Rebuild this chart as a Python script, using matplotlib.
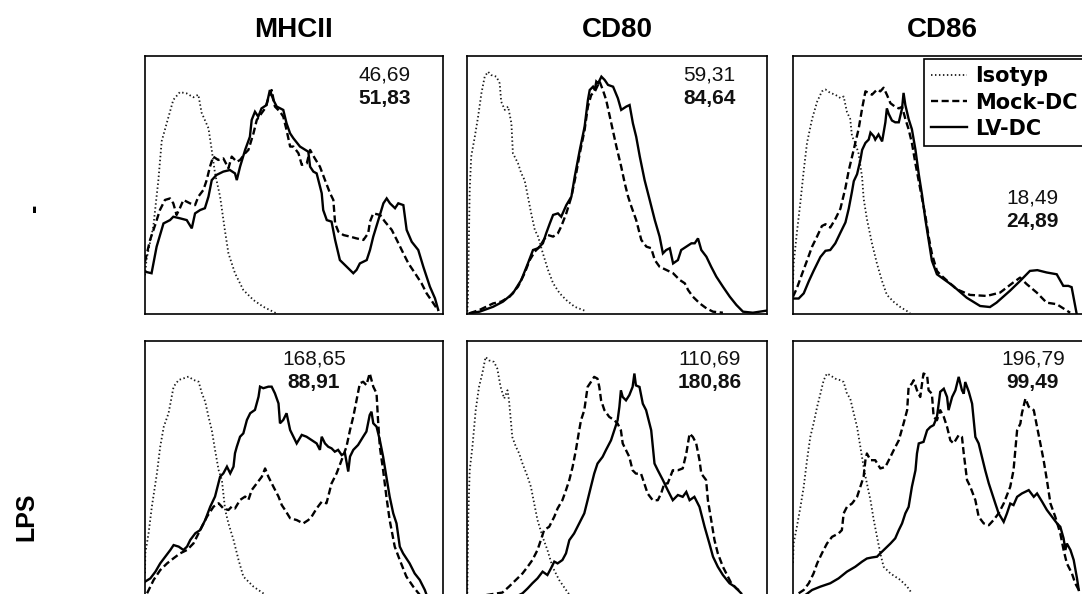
import numpy as np
import matplotlib
matplotlib.use("Agg")
import matplotlib.pyplot as plt
from matplotlib.lines import Line2D

plt.rcParams["font.family"] = ["Liberation Sans", "DejaVu Sans"]

MARKERS = ["MHCII", "CD80", "CD86"]
CONDITIONS = ["-", "LPS"]
SERIES = ["Isotyp", "Mock-DC", "LV-DC"]

# mean fluorescence intensities (Mock-DC on top, LV-DC in bold below)
mfi_mock = [[46.69, 59.31, 18.49], [168.65, 110.69, 196.79]]
mfi_lv = [[51.83, 84.64, 24.89], [88.91, 180.86, 99.49]]

# histograms as (channel, % of max) pairs, channel on a 0-100 log scale
mhcii_ctrl_iso = [(0, 15), (0.5, 21), (2.8, 34), (4.5, 52), (5.6, 67), (7.3, 74), (9.5, 83), (11.7, 86),
                  (14, 85.5), (16.2, 84), (17.9, 85), (19, 78), (21.3, 72), (22.4, 63.5), (23.5, 54.5),
                  (25.2, 45.5), (26.8, 32.5), (28, 23.5), (30.2, 15.8), (33, 9.3), (36.4, 5.4),
                  (39.7, 2.8), (44, 0.3)]
mhcii_ctrl_mock = [(0, 20.3), (1.7, 28.7), (3.4, 34.5), (5, 40.3), (6.7, 44.2), (8.4, 44.8), (9.5, 42.9),
                   (10.6, 38.4), (11.7, 41), (12.9, 44.2), (15.1, 42.9), (16.8, 42.2), (17.9, 45.5),
                   (19.6, 48.1), (20.7, 51.9), (21.8, 57.1), (22.9, 61), (24.6, 59.7), (26.3, 60.3),
                   (28, 56.5), (29.1, 61), (30.8, 59), (31.9, 59.7), (33.6, 62.3), (34.7, 63.6), (36.4, 70),
                   (37.5, 75.2), (39.1, 77.8), (40.3, 79.7), (41.4, 83.6), (42.5, 86.8), (43.6, 80.4),
                   (45.3, 78.4), (46.4, 76.5), (47.5, 71.3), (48.7, 64.9), (49.8, 64.9), (51.5, 62.3),
                   (52.6, 57.8), (54.3, 58.4), (55.4, 63.6), (57, 60.3), (58.7, 57.1), (60.4, 51.9),
                   (62.1, 46.8), (63.2, 44.2), (63.8, 35.1), (64.9, 31.9), (66.6, 30.6), (68.8, 30),
                   (71, 29.3), (73.3, 28.7), (74.9, 31.3), (75.5, 35.8), (76.6, 39), (78.9, 38.4),
                   (80.5, 35.8), (82.8, 32.6), (84.5, 28.7), (86.7, 23.5), (88.4, 19.6), (90.6, 15.8),
                   (92.8, 11.9), (94.5, 8), (96.8, 4.1), (98.4, 1.3)]
mhcii_ctrl_lv = [(0, 16.4), (2.2, 15.8), (3.9, 26.1), (6.2, 35.1), (8.4, 36.4), (9.5, 37.7), (11.7, 37.1),
                 (14, 36.4), (15.7, 33.2), (16.8, 39), (18.5, 40.3), (20.1, 41), (21.3, 45.5), (22.4, 51.9),
                 (24, 53.9), (26.3, 55.2), (28.5, 55.8), (30.2, 54.5), (30.8, 51.9), (31.9, 57.1),
                 (33.6, 63.6), (35.2, 68.7), (35.8, 75.2), (36.9, 78.4), (38, 76.5), (39.1, 79.7),
                 (40.8, 81), (41.9, 86.8), (43.1, 82.9), (44.2, 80.4), (46.4, 79.1), (47.5, 73.9),
                 (48.7, 70), (49.8, 68.1), (52, 64.9), (54.8, 62.9), (55.4, 57.1), (56.5, 55.2),
                 (57.6, 54.5), (59.3, 46.8), (59.8, 40.3), (61, 36.4), (62.6, 35.8), (63.8, 28.7),
                 (65.4, 20.9), (67.7, 18.3), (69.9, 15.8), (71, 17.1), (72.1, 19.6), (74.4, 20.9),
                 (75.5, 24.8), (76.6, 30), (78.3, 36.4), (80, 42.9), (81.1, 44.8), (82.2, 42.9),
                 (83.9, 41), (85, 42.9), (86.7, 42.2), (87.8, 32.6), (89.5, 28), (91.7, 24.8),
                 (93.4, 18.3), (95.6, 10.6), (97.3, 6.1), (98.4, 1.6)]

cd80_ctrl_iso = [(0.1, 1), (0.3, 5.4), (0.9, 48.1), (1.4, 61), (2.6, 68.7), (3.7, 76.5), (4.8, 85.5),
                 (5.9, 92), (7, 93.9), (8.1, 92.6), (9.8, 92), (10.9, 89.4), (11.4, 82.3), (12.6, 79.1),
                 (13.7, 80.4), (14.8, 73.9), (15.3, 62.3), (17, 58.4), (18.1, 54.5), (19.2, 51.9),
                 (20.3, 45.5), (21.4, 39), (22.6, 32.6), (23.7, 30), (25.3, 23.5), (27, 17.1),
                 (28.7, 11.9), (30.9, 8), (33.1, 5.4), (35.9, 2.8), (39.2, 1.3)]
cd80_ctrl_mock = [(0.9, 0.3), (4.2, 1.6), (8.7, 4.1), (11.4, 4.8), (14.2, 6.7), (17, 10.6), (19.2, 15.8),
                  (20.9, 20.9), (22.6, 24.2), (24.2, 26.1), (25.9, 29.3), (27, 30.6), (28.7, 30),
                  (30.3, 31.3), (31.4, 33.9), (33.1, 39), (34.8, 45.5), (36.4, 54.5), (37.6, 62.3),
                  (39.2, 71.3), (40.3, 80.4), (41.4, 84.9), (42.6, 86.2), (44.2, 90.1), (45.3, 86.8),
                  (46.4, 82.9), (48.1, 73.9), (49.8, 64.9), (51.4, 57.1), (52.6, 50.6), (53.7, 45.5),
                  (54.8, 41.6), (56.4, 36.4), (58.1, 28.7), (59.8, 26.1), (61.4, 25.5), (62.6, 20.9),
                  (64.2, 18.3), (66.4, 17.1), (68.7, 15.8), (70.9, 13.2), (72.6, 11.9), (73.7, 9.3),
                  (75.3, 6.7), (77.6, 4.1), (79.8, 2.2), (82, 0.9), (85.3, 0.5)]
cd80_ctrl_lv = [(0.9, 0.3), (4.2, 0.9), (8.7, 2.8), (12, 4.8), (15.3, 8), (18.1, 13.2), (20.3, 19.6),
                (22, 24.8), (23.7, 25.5), (25.3, 27.4), (26.4, 31.3), (27.6, 35.1), (28.7, 38.4),
                (30.3, 39), (31.4, 37.7), (33.1, 42.2), (34.8, 45.5), (35.9, 53.2), (37.6, 63.6),
                (39.2, 72.6), (40.3, 82.9), (40.9, 86.8), (42, 88.1), (42.6, 86.8), (43.1, 90.1),
                (43.7, 89.4), (44.8, 92), (45.9, 90.7), (47, 88.8), (48.7, 88.1), (50.3, 83.6),
                (51.4, 79.1), (53.1, 80.4), (54.2, 81), (55.3, 73.9), (56.4, 68.7), (57.6, 61),
                (59.2, 51.9), (60.9, 44.2), (62.6, 36.4), (64.2, 30), (65.3, 23.5), (66.4, 24.8),
                (67.6, 25.5), (68.7, 19.6), (70.3, 20.9), (71.4, 24.8), (73.1, 26.1), (74.8, 27.4),
                (75.9, 27.4), (77, 29.3), (78.1, 24.8), (79.8, 22.2), (81.4, 18.3), (83.1, 14.5),
                (85.3, 10.6), (87.6, 6.7), (89.8, 3.5), (92, 0.9), (95.3, 0.5), (99.8, 1.3)]

cd86_ctrl_iso = [(0, 12), (0.2, 19.4), (1.3, 31.5), (2.5, 43.5), (3.6, 55.6), (4.7, 66.3), (6.4, 75.6),
                 (8.1, 82.3), (9.7, 86.3), (10.9, 87), (12.5, 85.7), (14.2, 85), (15.9, 83.7), (17, 84.3),
                 (18.1, 78.3), (19.2, 75.6), (19.8, 68.9), (20.9, 66.3), (22, 62.2), (23.2, 52.9),
                 (23.7, 44.8), (24.8, 36.8), (26.5, 27.4), (28.2, 19.4), (29.9, 12.7), (31.5, 7.4),
                 (33.8, 4.7), (36, 2.7), (39.3, 0.4)]
cd86_ctrl_mock = [(0, 6.7), (1.3, 10), (3, 15.4), (4.7, 20.7), (6.4, 26.1), (8.1, 30.1), (9.7, 34.1),
                  (10.9, 34.8), (12.5, 33.5), (14.2, 36.8), (15.9, 40.8), (17.6, 48.9), (18.7, 55.6),
                  (19.8, 60.9), (20.9, 66.3), (22, 71.6), (23.2, 79.7), (24.3, 86.3), (25.4, 85.7),
                  (26.5, 85), (28.2, 87), (29.3, 86.3), (30.4, 87.7), (31.5, 85), (32.7, 81.7),
                  (34.3, 80.3), (35.5, 79.7), (36.6, 80.3), (37.7, 75.6), (38.8, 71.6), (39.9, 66.3),
                  (41.1, 58.2), (42.2, 51.5), (43.3, 44.8), (44.4, 38.2), (45.5, 30.1), (46.6, 23.4),
                  (48.3, 16.7), (49.3, 15.4), (54.9, 9.6), (59.4, 7.4), (65, 7), (69.5, 8.3), (73.9, 12.2),
                  (76.2, 14.1), (78.4, 11.6), (81.8, 8.3), (85.1, 4.4), (88.5, 3.8), (93, 0.5)]
cd86_ctrl_lv = [(0, 6), (1.9, 6), (3.6, 8), (5.3, 12.7), (6.9, 16.7), (9.2, 22.1), (10.9, 24.5),
                (12.5, 24.8), (14.2, 27.4), (15.9, 31.5), (17.6, 35.5), (18.7, 40.8), (19.8, 47.5),
                (20.4, 51.5), (21.5, 54.2), (22.6, 59.6), (23.2, 63.6), (24.3, 66.3), (25.4, 67.6),
                (26, 70.3), (27.1, 68.9), (27.6, 67.6), (28.7, 69.6), (29.9, 66.9), (31, 74.3),
                (31.5, 79.7), (32.1, 77.6), (33.2, 75), (34.3, 74.3), (35.5, 74.3), (36.6, 79.7),
                (37.1, 85.7), (37.7, 81), (38.8, 75.6), (39.9, 71.6), (41.1, 63.6), (42.2, 54.2),
                (43.3, 46.2), (44.4, 36.8), (45.5, 28.8), (46.6, 20.7), (48.3, 15.4), (53.7, 10.9),
                (58.3, 6.3), (62.8, 3.1), (66.1, 2.7), (68.3, 4.4), (72.8, 9), (76.2, 12.8), (79.5, 16.7),
                (82, 17), (85.1, 16.1), (88.5, 15.4), (90.7, 10.9), (92.4, 10.9), (93.5, 10.4), (95.2, 0)]

mhcii_lps_iso = [(0, 10), (0.1, 17.7), (1.2, 25.5), (2.3, 35.8), (4, 48.7), (5.1, 59), (6.3, 66.8),
                 (7.9, 72), (9.6, 82.3), (11.3, 84.9), (12.9, 85.5), (14.6, 86.2), (16.3, 84.9), (18, 84.2),
                 (19.1, 79.7), (20.2, 76.5), (21.3, 70.7), (22.4, 65.5), (23.5, 57.8), (24.7, 50),
                 (25.8, 46.1), (26.9, 34.5), (28, 29.3), (29.7, 22.9), (31.4, 15.1), (33, 8.7),
                 (36.4, 4.8), (39.7, 2.2), (42, 0.5)]
mhcii_lps_mock = [(0.7, 2.2), (2.9, 7.4), (5.1, 11.2), (7.4, 13.8), (9.6, 15.8), (11.8, 17.7), (14.1, 19),
                  (16.3, 21.6), (18.5, 26.7), (20.8, 31.9), (23, 35.8), (24.7, 37.1), (26.3, 35.1),
                  (28, 34.5), (29.1, 35.8), (30.2, 35.1), (31.9, 38.4), (33.6, 39.7), (34.7, 38.4),
                  (35.8, 42.2), (37.5, 44.8), (39.2, 47.4), (40.3, 50.6), (41.4, 47.4), (43.1, 43.5),
                  (44.8, 39.7), (45.9, 36.4), (47, 34.5), (48.7, 31.3), (50.9, 30.6), (53.1, 29.3),
                  (54.8, 30.6), (55.9, 31.9), (57.6, 35.1), (59.3, 37.7), (60.9, 37.1), (62.6, 44.8),
                  (64.3, 48.7), (66, 53.9), (67.6, 59), (68.8, 65.5), (69.9, 70.7), (71, 77.1),
                  (72.1, 83.6), (73.2, 84.2), (74.3, 82.9), (75.4, 87.5), (76.6, 82.3), (77.7, 79.7),
                  (78.2, 69.4), (78.8, 59), (79.9, 50), (81, 39.7), (82.1, 30.6), (83.8, 20.3),
                  (85.5, 15.1), (87.7, 8.7), (90, 4.8), (92.2, 1.6)]
mhcii_lps_lv = [(0, 6.7), (1.8, 8), (3.5, 10.6), (5.1, 13.8), (6.8, 16.4), (8.5, 19), (9.6, 20.9),
                (11.3, 20.3), (12.9, 19), (14.1, 20.3), (15.2, 22.9), (16.9, 25.5), (18.5, 26.7),
                (20.2, 30.6), (21.9, 35.8), (23.5, 39.7), (25.2, 47.4), (26.3, 48.7), (27.5, 51.3),
                (28.6, 48.7), (29.7, 51.3), (30.2, 56.5), (30.8, 59), (31.9, 62.9), (33, 64.2),
                (34.2, 69.4), (35.3, 72), (36.9, 73.3), (38.1, 78.4), (38.6, 82.3), (39.7, 81.7),
                (41.4, 82.3), (42.5, 82.3), (43.6, 79.7), (44.8, 75.8), (45.3, 68.1), (46.4, 69.4),
                (47.5, 72), (48.7, 65.5), (49.8, 62.9), (50.9, 60.3), (52.6, 63.6), (54.2, 62.9),
                (55.9, 61.6), (57.6, 60.3), (58.7, 57.8), (59.3, 62.9), (60.4, 60.3), (61.5, 59),
                (62.6, 58.4), (63.7, 57.1), (64.8, 57.8), (66, 55.8), (67.1, 56.5), (68.2, 49.4),
                (68.8, 55.2), (69.9, 57.8), (71.5, 59.7), (73.2, 62.9), (74.3, 64.9), (75.4, 71.3),
                (76, 72.6), (76.6, 68.1), (77.7, 66.8), (78.8, 61.6), (79.9, 55.2), (81, 47.4),
                (82.1, 39.7), (83.3, 33.2), (84.4, 29.3), (85.5, 20.3), (86.6, 17.7), (88.8, 13.8),
                (90.5, 9.9), (92.2, 7.4), (93.9, 3.5), (94.4, 1.9), (95, 0)]

cd80_lps_iso = [(0.1, 2.2), (0.4, 30.6), (0.9, 49.9), (1.8, 59), (2.9, 73.2), (4, 82.2), (5.1, 87.4),
                (6.2, 93.8), (7.3, 92.5), (9, 91.9), (10.1, 89.3), (11.2, 82.2), (12.4, 77.7), (13.5, 80.9),
                (14, 77), (14.6, 69.3), (15.1, 62.8), (16.3, 59), (17.4, 56.4), (18.5, 52.5), (20.2, 47.4),
                (21.3, 43.5), (22.4, 37), (23.5, 30.6), (25.2, 24.1), (26.8, 19), (28.5, 12.5),
                (30.7, 7.4), (33, 3.5), (34.6, 0.9)]
cd80_lps_mock = [(1.8, 0.9), (6.2, 1.5), (11.8, 2.5), (14, 4.8), (16.3, 7.4), (18.5, 9.9), (20.2, 12.5),
                 (21.8, 15.1), (23.5, 19), (24.6, 22.8), (25.7, 26.7), (27.4, 28), (29.1, 31.9),
                 (30.2, 35.1), (31.8, 38.3), (33, 42.2), (34.1, 46.1), (35.2, 51.2), (36.3, 57.7),
                 (37.4, 65.4), (38, 69.3), (39.1, 73.2), (40.2, 82.2), (41.3, 84.1), (42.4, 86.1),
                 (43.5, 85.4), (44.1, 82.2), (44.7, 77), (45.8, 73.2), (47.4, 70.6), (49.1, 69.3),
                 (50.2, 68), (51.3, 65.4), (51.9, 60.3), (53, 57.7), (54.1, 55.1), (55.2, 49.9),
                 (56.3, 48.6), (58, 48.6), (59.1, 44.8), (60.2, 40.9), (61.9, 38.3), (63.6, 38.3),
                 (64.7, 40.9), (65.8, 44.8), (66.9, 44.8), (68.6, 49.9), (70.3, 49.9), (71.9, 50.6),
                 (73.1, 56.4), (74.2, 64.1), (75.3, 62.8), (76.4, 60.3), (77.5, 53.8), (78.1, 48.6),
                 (79.7, 46.1), (80.3, 38.3), (81.4, 30.6), (82.5, 22.8), (83.6, 17.7), (85.3, 12.5),
                 (87, 8.6), (88.1, 6.1), (89.8, 4.1), (91.4, 2.8)]
cd80_lps_lv = [(12, 0.5), (16.3, 0.9), (18.5, 2.2), (20.2, 4.1), (21.8, 6.1), (23.5, 8), (25.2, 10.6),
               (26.8, 9.3), (28, 11.9), (29.1, 14.5), (30.2, 13.8), (31.8, 15.1), (33, 17.7), (34.1, 22.8),
               (35.7, 25.4), (37.4, 29.3), (39.1, 33.2), (40.2, 38.3), (41.3, 43.5), (42.4, 48.6),
               (43.5, 52.5), (45.2, 55.1), (46.3, 57.7), (48, 61.5), (49.1, 65.4), (50.2, 69.3),
               (50.8, 74.5), (51.3, 80.9), (51.9, 78.3), (53, 77), (54.1, 79), (55.2, 82.2), (55.8, 87.4),
               (56.3, 82.8), (57.5, 82.2), (58.6, 75.7), (59.7, 73.2), (61.4, 65.4), (62.5, 52.5),
               (63.6, 49.9), (65.3, 46.1), (66.9, 42.2), (68.6, 38.3), (70.3, 40.3), (71.9, 39.6),
               (73.1, 41.5), (74.2, 38.3), (75.8, 39.6), (77.5, 35.7), (79.2, 28), (80.8, 21.5),
               (82, 16.4), (83.6, 12.5), (85.3, 9.3), (87.5, 6.1), (89.2, 4.8), (91.4, 2.2)]

cd86_lps_iso = [(0, 14), (0.2, 21.5), (1.3, 28), (2.5, 35.7), (3.6, 43.5), (4.7, 53.8), (5.8, 62.8),
                (6.9, 68), (8.1, 74.5), (9.2, 79.6), (10.3, 84.8), (11.4, 87.4), (12.5, 86.7), (14.2, 85.4),
                (15.9, 84.8), (17, 84.1), (18.1, 79.6), (19.2, 77.7), (20.4, 71.9), (21.5, 66.7),
                (22.6, 59), (23.7, 51.2), (24.8, 44.8), (26, 38.3), (27.1, 30.6), (28.2, 24.1),
                (29.3, 17.7), (30.4, 12.5), (32.7, 9.9), (36, 7.4), (38.3, 4.8), (39.9, 2.2)]
cd86_lps_mock = [(1.9, 2.2), (3.6, 3.5), (5.3, 6.1), (6.9, 9.9), (8.1, 13.8), (9.7, 17.7), (11.4, 21.5),
                 (13.1, 24.1), (15.3, 25.4), (16.4, 26.7), (17, 33.2), (18.1, 35.7), (19.8, 37),
                 (21.5, 39.6), (22.6, 43.5), (23.7, 47.4), (24.3, 53.8), (24.8, 56.4), (26, 53.8),
                 (27.6, 53.8), (29.3, 50.6), (31, 51.2), (32.7, 55.1), (33.8, 57.7), (35.5, 61.5),
                 (37.1, 68), (38.3, 73.2), (38.8, 82.2), (39.9, 83.5), (40.5, 84.8), (41.6, 80.9),
                 (42.7, 78.3), (43.3, 83.5), (43.8, 87.4), (45, 86.7), (45.5, 80.9), (46.6, 79.6),
                 (47.2, 70.6), (48.3, 69.3), (49.4, 73.2), (50.6, 70.6), (51.7, 66.7), (52.8, 61.5),
                 (53.9, 60.3), (55.6, 63.5), (56.7, 62.8), (57.3, 56.4), (58.4, 46.1), (59.5, 43.5),
                 (61.2, 38.3), (62.3, 31.9), (64, 29.3), (65.7, 28.6), (67.3, 30.6), (69, 33.2),
                 (70.7, 37), (72.9, 43.5), (74, 49.9), (75.2, 65.4), (76.3, 68), (76.8, 71.9), (78, 77.7),
                 (79.1, 74.5), (80.8, 73.2), (81.9, 66.7), (83, 60.3), (84.1, 53.8), (85.2, 46.1),
                 (86.4, 37), (88, 31.9), (89.7, 25.4), (90.8, 19), (91.9, 13.8), (93.6, 9.9), (94.7, 6.1),
                 (95.9, 3.5)]
cd86_lps_lv = [(1.9, 0.3), (4.1, 1.5), (6.4, 3.5), (9.2, 4.8), (12.5, 6.1), (15.3, 8), (18.1, 10.6),
               (20.9, 12.5), (23.2, 14.5), (24.8, 15.7), (26.5, 16.1), (28.2, 16.4), (29.3, 17.7),
               (31, 19.6), (32.7, 21.5), (34.3, 23.5), (35.5, 26.7), (36.6, 29.3), (37.7, 33.2),
               (38.8, 35.7), (39.9, 43.5), (41.1, 49.9), (41.6, 56.4), (42.2, 60.3), (43.8, 60.9),
               (45, 65.4), (46.1, 66.7), (47.2, 67.4), (48.3, 70.6), (48.9, 75.7), (49.4, 80.3),
               (50.6, 81.5), (51.7, 78.3), (52.2, 73.2), (53.4, 78.3), (54.5, 80.9), (55.6, 86.1),
               (56.7, 80.9), (57.3, 79.6), (57.8, 84.1), (59, 80.3), (60.1, 75.7), (61.2, 62.8),
               (62.3, 60.3), (63.4, 55.1), (64.5, 49.9), (65.7, 44.8), (66.8, 40.9), (67.9, 37),
               (69, 33.2), (70.7, 29.9), (71.8, 33.2), (72.9, 37), (74, 36.4), (75.2, 39.6), (76.8, 40.9),
               (79.1, 42.2), (80.8, 39.6), (81.9, 40.9), (83.6, 37.7), (85.2, 34.5), (86.9, 31.9),
               (88.6, 29.3), (89.7, 28), (90.8, 23.5), (91.4, 19), (91.9, 21.5), (93.1, 19), (94.2, 15.1),
               (95.3, 8), (95.9, 3.5)]

histograms = [
    [(mhcii_ctrl_iso, mhcii_ctrl_mock, mhcii_ctrl_lv),
     (cd80_ctrl_iso, cd80_ctrl_mock, cd80_ctrl_lv),
     (cd86_ctrl_iso, cd86_ctrl_mock, cd86_ctrl_lv)],
    [(mhcii_lps_iso, mhcii_lps_mock, mhcii_lps_lv),
     (cd80_lps_iso, cd80_lps_mock, cd80_lps_lv),
     (cd86_lps_iso, cd86_lps_mock, cd86_lps_lv)],
]

STYLES = [
    dict(color="#1a1a1a", lw=1.3, linestyle=(0, (0.8, 1.4))),
    dict(color="black", lw=1.7, linestyle=(0, (3, 1.5))),
    dict(color="black", lw=1.7, linestyle="-"),
]

# panel layout in pixels (figure is 1082 x 594)
FW, FH = 1082, 594
col_left = [145, 467, 793]
col_width = [298, 300, 298]
row_top = [56, 341]
panel_h = 258
# where the MFI pair sits inside each panel (x centre, y of upper line), in data units
mfi_pos = [[(80.5, 92.5), (80.7, 92.5), (80.2, 45)],
           [(56.7, 93), (81, 93), (80.5, 93)]]

fig = plt.figure(figsize=(FW / 100, FH / 100), dpi=100)

for r in range(2):
    for c in range(3):
        rect = [col_left[c] / FW, 1 - (row_top[r] + panel_h) / FH,
                col_width[c] / FW, panel_h / FH]
        ax = fig.add_axes(rect)
        for curve, style in zip(histograms[r][c], STYLES):
            x, y = np.array(curve).T
            ax.plot(x, y, solid_joinstyle="miter", **style)
        ax.set_xlim(0, 100)
        ax.set_ylim(0, 100)
        ax.set_xticks([])
        ax.set_yticks([])
        for sp in ax.spines.values():
            sp.set_linewidth(1.2)
            sp.set_color("black")
        ux, uy = mfi_pos[r][c]
        ax.text(ux, uy, f"{mfi_mock[r][c]:.2f}".replace(".", ","), ha="center", va="center",
                fontsize=15, color="#111111")
        ax.text(ux, uy - 9, f"{mfi_lv[r][c]:.2f}".replace(".", ","), ha="center", va="center",
                fontsize=15, fontweight="bold", color="#111111")
        if r == 0:
            ax.set_title(MARKERS[c], fontsize=20, fontweight="bold", pad=14)
        if r == 0 and c == 2:
            handles = [Line2D([], [], **s) for s in STYLES]
            leg = ax.legend(handles, SERIES, loc="upper left",
                            bbox_to_anchor=(924 / FW, 1 - 59 / FH), bbox_transform=fig.transFigure,
                            borderaxespad=0, fancybox=False, framealpha=1, handlelength=1.7,
                            handletextpad=0.4, labelspacing=0.3, borderpad=0.35,
                            prop=dict(family="DejaVu Sans", weight="bold", size=15))
            leg.get_frame().set_edgecolor("black")
            leg.get_frame().set_linewidth(1.2)

fig.text(34 / FW, 1 - 208 / FH, CONDITIONS[0], rotation=90, ha="center", va="center",
         fontsize=18, fontweight="bold")
fig.text(26 / FW, 1 - 517 / FH, CONDITIONS[1], rotation=90, ha="center", va="center",
         fontsize=18, fontweight="bold")

fig.savefig("out.png", dpi=100, facecolor="white")
